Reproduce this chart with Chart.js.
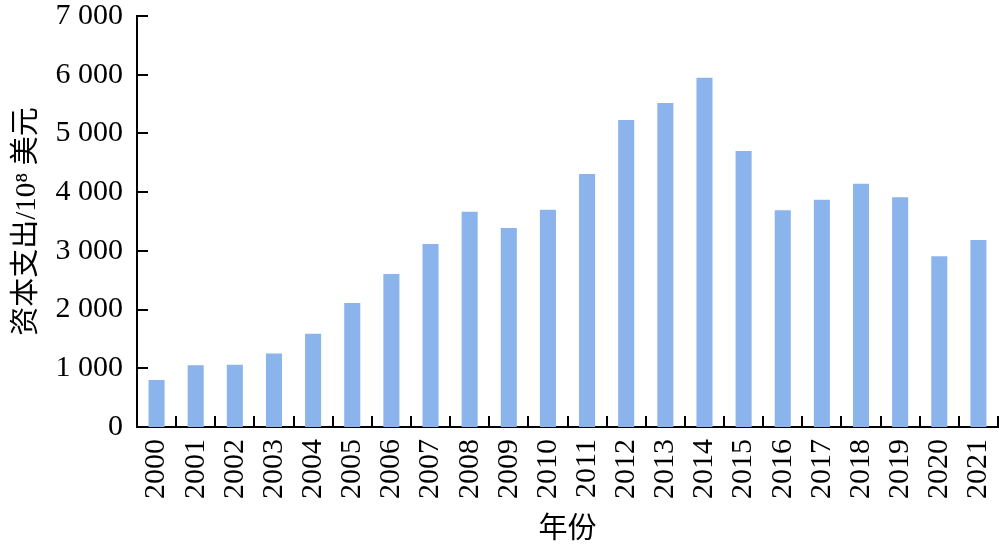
<!DOCTYPE html>
<html>
<head>
<meta charset="utf-8">
<script src="https://cdn.jsdelivr.net/npm/chart.js@4"></script>
<style>
  html, body { margin: 0; padding: 0; background: #fff; }
  #wrap { width: 1000px; height: 550px; }
</style>
</head>
<body>
<div id="wrap"><canvas id="capexChart"></canvas></div>
<script>
// categories and values (10^8 USD)
const years = ['2000', '2001', '2002', '2003', '2004', '2005', '2006', '2007', '2008', '2009', '2010',
  '2011', '2012', '2013', '2014', '2015', '2016', '2017', '2018', '2019', '2020', '2021'];
const capex = [800, 1050, 1060, 1250, 1590, 2110, 2605, 3115, 3665, 3390, 3700,
  4310, 5230, 5520, 5950, 4700, 3690, 3870, 4145, 3915, 2910, 3185];
const yTicks = [0, 1000, 2000, 3000, 4000, 5000, 6000, 7000];

const serif = "'Times New Roman', 'Liberation Serif', 'Noto Sans CJK SC', serif";

// short tick marks pointing into the plot area
const insideTicks = {
  id: 'insideTicks',
  afterDraw(chart) {
    const c = chart.ctx;
    const x = chart.scales.x, y = chart.scales.y;
    const len = 11;
    c.save();
    c.strokeStyle = '#000';
    c.lineWidth = 2;
    c.beginPath();
    yTicks.forEach(function (v) {
      const py = Math.round(y.getPixelForValue(v));
      c.moveTo(x.left, py);
      c.lineTo(x.left + len, py);
    });
    const step = x.width / years.length;
    for (let i = 1; i <= years.length; i++) {
      const px = Math.round(x.left + i * step);
      c.moveTo(px, y.bottom);
      c.lineTo(px, y.bottom - len);
    }
    c.stroke();
    c.restore();
  }
};

const ctx = document.getElementById('capexChart').getContext('2d');
const capexChart = new Chart(ctx, {
  type: 'bar',
  data: {
    labels: years,
    datasets: [{
      label: '资本支出',
      data: capex,
      backgroundColor: '#8AB4EB',
      borderWidth: 0,
      categoryPercentage: 1,
      barPercentage: 0.41
    }]
  },
  options: {
    responsive: true,
    maintainAspectRatio: false,
    animation: false,
    layout: { padding: { top: 16, right: 2, bottom: 0, left: 0 } },
    plugins: {
      legend: { display: false },
      tooltip: { enabled: false }
    },
    scales: {
      x: {
        grid: { display: false, drawTicks: false },
        border: { display: true, color: '#000', width: 2 },
        ticks: {
          color: '#000',
          font: { family: serif, size: 30 },
          minRotation: 90,
          maxRotation: 90,
          padding: 12
        },
        title: {
          display: true,
          text: '年份',
          color: '#000',
          font: { family: serif, size: 29 },
          padding: { top: 0, bottom: 2 }
        },
        afterFit: function (scale) {
          scale.height = 123;
          scale.paddingLeft = 0;
          scale.paddingRight = 0;
        }
      },
      y: {
        min: 0,
        max: 7000,
        grid: { display: false, drawTicks: false },
        border: { display: true, color: '#000', width: 2 },
        afterBuildTicks: function (scale) {
          scale.ticks = yTicks.map(function (v) { return { value: v }; });
        },
        ticks: {
          color: '#000',
          font: { family: serif, size: 30 },
          padding: 14,
          callback: function (v) {
            return v >= 1000 ? Math.floor(v / 1000) + ' ' + String(v % 1000).padStart(3, '0') : String(v);
          }
        },
        title: {
          display: true,
          text: '资本支出/10⁸ 美元',
          color: '#000',
          font: { family: serif, size: 29 },
          padding: { top: 10, bottom: 0 }
        },
        afterFit: function (scale) {
          scale.width = 137;
          scale.paddingTop = 0;
          scale.paddingBottom = 0;
        }
      }
    }
  },
  plugins: [insideTicks]
});
</script>
</body>
</html>
